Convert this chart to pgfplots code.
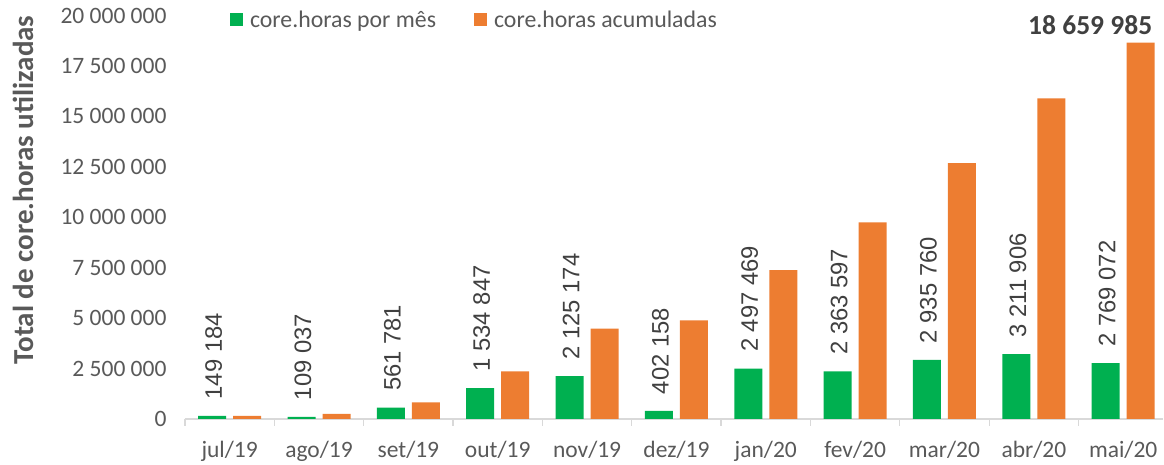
\documentclass[border=0pt]{standalone}
\usepackage{fontspec}
\setmainfont{Carlito}
\newfontfamily\arialf{Liberation Sans}
\usepackage{pgfplots}
\usepackage{pgfplotstable}
\pgfplotsset{compat=1.18}
\definecolor{cgreen}{HTML}{00B050}
\definecolor{corange}{HTML}{ED7D31}
\definecolor{ctext}{HTML}{595959}
\definecolor{cdark}{HTML}{404040}
\definecolor{caxis}{HTML}{D9D9D9}

\pgfplotstableread[col sep=comma]{
x,lab,y
0,149 184,149184
1,109 037,109037
2,561 781,561781
3,1 534 847,1534847
4,2 125 174,2125174
5,402 158,402158
6,2 497 469,2497469
7,2 363 597,2363597
8,2 935 760,2935760
9,3 211 906,3211906
10,2 769 072,2769072
}\monthly

\pgfplotstableread[col sep=comma]{
x,lab,y
0,,149184
1,,258221
2,,820002
3,,2354849
4,,4480023
5,,4882181
6,,7379650
7,,9743247
8,,12679007
9,,15890913
10,18 659 985,18659985
}\cumul

\begin{document}
\begin{tikzpicture}
\begin{axis}[
  at={(0,0)}, anchor=south west,
  scale only axis, width=978.4pt, height=403.5pt,
  xmin=-0.5, xmax=10.45, ymin=0, ymax=20000000,
  clip=false,
  axis lines*=left,
  x axis line style={draw=caxis, line width=1.3pt},
  y axis line style={draw=none},
  xtick={0,...,10},
  xticklabels={jul/19,ago/19,set/19,out/19,nov/19,dez/19,jan/20,fev/20,mar/20,abr/20,mai/20},
  minor xtick={-0.5,0.5,...,9.5},
  tick align=outside,
  major tick length=0pt,
  minor tick length=7pt,
  minor tick style={draw=caxis, line width=1.3pt},
  ytick={0,2500000,5000000,7500000,10000000,12500000,15000000,17500000,20000000},
  yticklabels={0,2 500 000,5 000 000,7 500 000,10 000 000,12 500 000,15 000 000,17 500 000,20 000 000},
  ytick style={draw=none},
  ticklabel style={font=\fontsize{23.5}{28}\selectfont, text=ctext},
  xticklabel style={yshift=-19pt},
  yticklabel style={xshift=-15pt},
  scaled y ticks=false,
  ylabel={Total de core.horas utilizadas},
  every axis y label/.style={at={(rel axis cs:-0.1656,0.5675)}, rotate=90, anchor=center,
    font=\bfseries\fontsize{29}{34}\selectfont, text=ctext},
  legend columns=2,
  legend cell align=left,
  legend style={at={(rel axis cs:0.046,0.989)}, anchor=west, draw=none, fill=none,
    inner sep=0pt, outer sep=0pt,
    font=\fontsize{23.8}{28}\selectfont, text=ctext,
    nodes={inner sep=0pt},
    /tikz/every odd column/.append style={column sep=7pt},
    /tikz/every even column/.append style={column sep=38pt}},
]
\addplot[ybar, bar width=28pt, bar shift=-17.5pt, fill=cgreen, draw=none,
  legend image code/.code={\fill[cgreen] (0pt,-6.5pt) rectangle (13pt,6.5pt);},
  nodes near coords, point meta=explicit symbolic,
  every node near coord/.append style={xshift=-16pt, rotate=90, anchor=west, inner sep=0pt, inner xsep=16.5pt,
    font=\arialf\fontsize{23.8}{28}\selectfont, text=cdark}]
  table[x=x, y=y, meta=lab]{\monthly};
\addlegendentry{core.horas por mês}
\addplot[ybar, bar width=28pt, bar shift=17.5pt, fill=corange, draw=none,
  legend image code/.code={\fill[corange] (0pt,-6.5pt) rectangle (13pt,6.5pt);},
  nodes near coords, point meta=explicit symbolic,
  every node near coord/.append style={anchor=south, inner sep=0pt, yshift=8pt, xshift=-33pt,
    font=\bfseries\fontsize{27.5}{32}\selectfont, text=cdark}]
  table[x=x, y=y, meta=lab]{\cumul};
\addlegendentry{core.horas acumuladas}
\end{axis}
\pgfresetboundingbox
\path (-185pt,-46pt) rectangle (979pt,419pt);
\end{tikzpicture}
\end{document}
